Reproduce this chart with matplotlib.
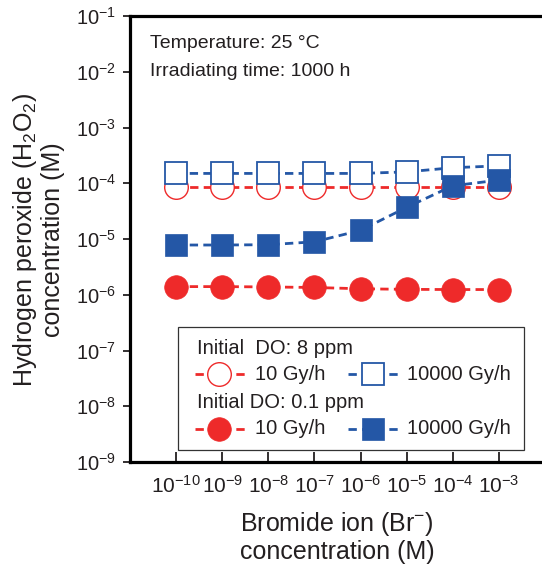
"""Hydrogen peroxide concentration vs. bromide ion concentration (log-log)."""

import math

import matplotlib

matplotlib.use("Agg")
import matplotlib.pyplot as plt
from matplotlib.patches import Rectangle
from matplotlib.ticker import FixedLocator, NullLocator

# --- data -------------------------------------------------------------------
BR_CONC = [1e-10, 1e-9, 1e-8, 1e-7, 1e-6, 1e-5, 1e-4, 1e-3]

# Initial DO 8 ppm
DO8_10GY = [8.5e-5, 8.5e-5, 8.5e-5, 8.5e-5, 8.5e-5, 8.5e-5, 8.5e-5, 8.5e-5]
DO8_10000GY = [1.5e-4, 1.5e-4, 1.5e-4, 1.5e-4, 1.5e-4, 1.6e-4, 1.9e-4, 2.05e-4]

# Initial DO 0.1 ppm
DO01_10GY = [1.4e-6, 1.4e-6, 1.38e-6, 1.35e-6, 1.28e-6, 1.25e-6, 1.24e-6, 1.24e-6]
DO01_10000GY = [7.8e-6, 7.8e-6, 7.9e-6, 8.9e-6, 1.43e-5, 3.7e-5, 9.0e-5, 1.14e-4]

Y_TICKS = [1e-9, 1e-8, 1e-7, 1e-6, 1e-5, 1e-4, 1e-3, 1e-2, 1e-1]

RED = "#ee2a2a"
BLUE = "#2457a6"
TEXT = "#231f20"


def pow10_label(v):
    return f"$10^{{{int(round(math.log10(v)))}}}$"


plt.rcParams["font.family"] = ["Liberation Sans", "DejaVu Sans"]
plt.rcParams["mathtext.fontset"] = "custom"
plt.rcParams["mathtext.rm"] = "Liberation Sans"
plt.rcParams["mathtext.it"] = "Liberation Sans:italic"
plt.rcParams["mathtext.bf"] = "Liberation Sans:bold"

W, H = 542, 567
fig = plt.figure(figsize=(W / 100, H / 100), dpi=100)
# axes box in pixels: left 130, right 545 (cropped), top 16, bottom 462
ax = fig.add_axes([130 / W, (H - 462) / H, 415 / W, 446 / H])

dash = (0, (3.0, 1.9))
lw = 2.0
ms = 16

ax.plot(BR_CONC, DO8_10GY, ls=dash, lw=lw, color=RED, marker="o", ms=ms + 1,
        mfc="white", mec=RED, mew=1.0, zorder=3)
ax.plot(BR_CONC, DO8_10000GY, ls=dash, lw=lw, color=BLUE, marker="s", ms=ms,
        mfc="white", mec=BLUE, mew=1.3, zorder=4)
ax.plot(BR_CONC, DO01_10GY, ls=dash, lw=lw, color=RED, marker="o", ms=ms + 1,
        mfc=RED, mec=RED, mew=0.5, zorder=3)
ax.plot(BR_CONC, DO01_10000GY, ls=dash, lw=lw, color=BLUE, marker="s", ms=ms,
        mfc=BLUE, mec=BLUE, mew=0.5, zorder=5)

ax.set_xscale("log")
ax.set_yscale("log")
ax.set_xlim(1e-11, 1e-2)
ax.set_ylim(1e-9, 1e-1)

ax.xaxis.set_major_locator(FixedLocator(BR_CONC))
ax.yaxis.set_major_locator(FixedLocator(Y_TICKS))
ax.xaxis.set_minor_locator(NullLocator())
ax.yaxis.set_minor_locator(NullLocator())
ax.set_xticklabels([pow10_label(v) for v in BR_CONC])
ax.set_yticklabels([pow10_label(v) for v in Y_TICKS])

ax.tick_params(axis="x", direction="in", length=7, width=1.3, pad=9,
               labelsize=15, colors=TEXT)
ax.tick_params(axis="y", direction="out", length=5, width=1.3, pad=5,
               labelsize=14.5, colors=TEXT)
for side in ("left", "bottom", "top"):
    ax.spines[side].set_linewidth(2.3)
    ax.spines[side].set_color("black")
ax.spines["right"].set_visible(False)


def px(x, y):
    """Pixel position in the figure -> axes fraction."""
    return (x - 130) / 415, (462 - y) / 446


# annotation text
ax.text(*px(150, 43), "Temperature: 25 °C", transform=ax.transAxes,
        fontsize=14, color=TEXT, va="center")
ax.text(*px(150, 72), "Irradiating time: 1000 h", transform=ax.transAxes,
        fontsize=14, color=TEXT, va="center")

# hand-built legend (two header rows spanning both columns)
x0, y0 = px(178, 450)
x1, y1 = px(524, 327)
ax.add_patch(Rectangle((x0, y0), x1 - x0, y1 - y0, transform=ax.transAxes,
                       fill=True, facecolor="white", edgecolor="#333333",
                       lw=0.9, zorder=6, clip_on=False))

legend_rows = [
    (348, "Initial  DO: 8 ppm", None),
    (374, None, "open"),
    (402, "Initial DO: 0.1 ppm", None),
    (429, None, "filled"),
]
entries = [
    (195, 248, 219, 255, RED, "o", "10 Gy/h"),
    (348, 402, 373, 407, BLUE, "s", "10000 Gy/h"),
]
for ypx, header, fill in legend_rows:
    if header:
        ax.text(*px(197, ypx), header, transform=ax.transAxes, fontsize=14.5,
                color=TEXT, va="center", zorder=7)
        continue
    for xa, xb, xm, xt, color, marker, label in entries:
        (ax_a, ay), (ax_b, _) = px(xa, ypx), px(xb, ypx)
        ax.plot([ax_a, ax_b], [ay, ay], transform=ax.transAxes, ls=dash,
                lw=lw, color=color, zorder=7, clip_on=False)
        if fill == "open":
            face, mew = "white", (1.0 if marker == "o" else 1.3)
        else:
            face, mew = color, 0.5
        size = ms + 1 if marker == "o" else ms
        ax.plot([px(xm, ypx)[0]], [ay], transform=ax.transAxes,
                marker=marker, ms=size, mfc=face, mec=color, mew=mew,
                ls="none", zorder=8, clip_on=False)
        ax.text(*px(xt, ypx), label, transform=ax.transAxes, fontsize=14.5,
                color=TEXT, va="center", zorder=8)

# axis labels
fig.text(38 / W, 1 - 240 / H,
         "Hydrogen peroxide (H$_2$O$_2$)\nconcentration (M)",
         rotation=90, ha="center", va="center", fontsize=18, color=TEXT,
         multialignment="center", linespacing=1.15)
fig.text(337 / W, 1 - 537 / H, "Bromide ion (Br$^{-}$)\nconcentration (M)",
         ha="center", va="center", fontsize=18, color=TEXT,
         multialignment="center", linespacing=1.15)

fig.savefig("out.png", dpi=100)
